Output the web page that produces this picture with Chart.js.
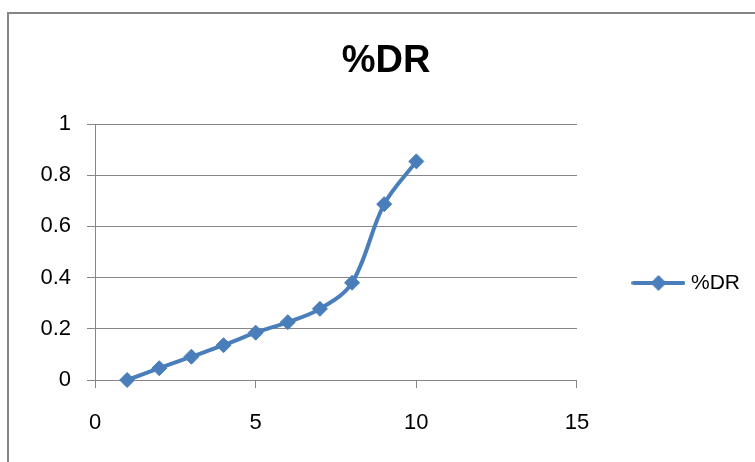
<!DOCTYPE html>
<html>
<head>
<meta charset="utf-8">
<script src="https://cdn.jsdelivr.net/npm/chart.js@4"></script>
<style>
  html, body { margin: 0; padding: 0; background: #ffffff; overflow: hidden; }
  #wrap { position: absolute; left: 0; top: 0; width: 755px; height: 462px; }
</style>
</head>
<body>
<div id="wrap"><canvas id="chart" width="755" height="462"></canvas></div>
<script>
// Series data
const xValues = [1, 2, 3, 4, 5, 6, 7, 8, 9, 10];
const drValues = [0.0, 0.046, 0.091, 0.136, 0.185, 0.226, 0.278, 0.38, 0.687, 0.854];
const seriesName = '%DR';
const chartTitle = '%DR';

// Axis ticks
const xTickValues = [0, 5, 10, 15];
const xTickLabels = ['0', '5', '10', '15'];
const yTickValues = [0, 0.2, 0.4, 0.6, 0.8, 1];
const yTickLabels = ['0', '0.2', '0.4', '0.6', '0.8', '1'];

const lineColor = '#4a7ebb';
const gridColor = '#868686';
const fontFamily = '"Liberation Sans", Arial, sans-serif';

const points = xValues.map((x, i) => ({ x: x, y: drValues[i] }));

// Legend swatch: a line with a diamond marker in the middle
function makeLegendSwatch() {
  const c = document.createElement('canvas');
  c.width = 54; c.height = 20;
  const g = c.getContext('2d');
  g.strokeStyle = lineColor;
  g.lineWidth = 4;
  g.lineCap = 'round';
  g.beginPath(); g.moveTo(2, 10); g.lineTo(52, 10); g.stroke();
  g.fillStyle = lineColor;
  g.beginPath();
  g.moveTo(27, 2); g.lineTo(35, 10); g.lineTo(27, 18); g.lineTo(19, 10);
  g.closePath(); g.fill();
  return c;
}
const legendSwatch = makeLegendSwatch();

// Outer frame of the chart object
const framePlugin = {
  id: 'frame',
  beforeDraw(chart) {
    const ctx = chart.ctx;
    ctx.save();
    ctx.fillStyle = '#ffffff';
    ctx.fillRect(0, 0, chart.width, chart.height);
    ctx.strokeStyle = gridColor;
    ctx.lineWidth = 2;
    ctx.beginPath();
    ctx.moveTo(8, chart.height + 2);
    ctx.lineTo(8, 13);
    ctx.lineTo(chart.width + 2, 13);
    ctx.stroke();
    ctx.restore();
  }
};

new Chart(document.getElementById('chart'), {
  type: 'scatter',
  data: {
    datasets: [{
      label: seriesName,
      data: points,
      showLine: true,
      tension: 0.35,
      borderColor: lineColor,
      borderWidth: 4,
      backgroundColor: lineColor,
      pointStyle: 'rectRot',
      pointRadius: 7.5,
      pointBorderWidth: 1,
      pointBorderColor: lineColor,
      pointBackgroundColor: lineColor,
      clip: false
    }]
  },
  options: {
    responsive: false,
    animation: false,
    events: [],
    layout: { padding: { left: 22, right: 5, top: 0, bottom: 0 } },
    plugins: {
      title: {
        display: true,
        text: chartTitle,
        color: '#000000',
        font: { family: fontFamily, size: 38, weight: 'bold', lineHeight: 1.2 },
        padding: { top: 39, bottom: 39.4 }
      },
      legend: {
        display: true,
        position: 'right',
        fullSize: false,
        title: {
          display: true,
          text: ' ',
          font: { family: fontFamily, size: 12, lineHeight: 1.2 },
          padding: { top: 47.6, bottom: 0 }
        },
        labels: {
          color: '#000000',
          font: { family: fontFamily, size: 21 },
          usePointStyle: true,
          pointStyleWidth: 44,
          padding: 59.5,
          generateLabels(chart) {
            const ds = chart.data.datasets[0];
            return [{
              text: ds.label,
              fontColor: '#000000',
              fillStyle: lineColor,
              strokeStyle: lineColor,
              lineWidth: 0,
              pointStyle: legendSwatch,
              hidden: false,
              datasetIndex: 0
            }];
          }
        }
      },
      tooltip: { enabled: false }
    },
    scales: {
      x: {
        type: 'linear',
        min: xTickValues[0],
        max: xTickValues[xTickValues.length - 1],
        afterBuildTicks(scale) { scale.ticks = xTickValues.map(v => ({ value: v })); },
        afterFit(scale) { scale.height = 82; },
        grid: {
          drawOnChartArea: false,
          drawTicks: true,
          tickLength: 8,
          color: gridColor,
          lineWidth: 1
        },
        border: { display: true, color: gridColor, width: 1 },
        ticks: {
          padding: 22,
          color: '#000000',
          font: { family: fontFamily, size: 22 },
          maxRotation: 0,
          callback(value, index) { return xTickLabels[index]; }
        }
      },
      y: {
        type: 'linear',
        min: yTickValues[0],
        max: yTickValues[yTickValues.length - 1],
        afterBuildTicks(scale) { scale.ticks = yTickValues.map(v => ({ value: v })); },
        afterFit(scale) { scale.width = 73; },
        grid: {
          drawOnChartArea: true,
          drawTicks: true,
          tickLength: 8,
          color: gridColor,
          lineWidth: 1
        },
        border: { display: true, color: gridColor, width: 1 },
        ticks: {
          padding: 16,
          color: '#000000',
          font: { family: fontFamily, size: 22 },
          callback(value, index) { return yTickLabels[index]; }
        }
      }
    }
  },
  plugins: [framePlugin]
});
</script>
</body>
</html>
